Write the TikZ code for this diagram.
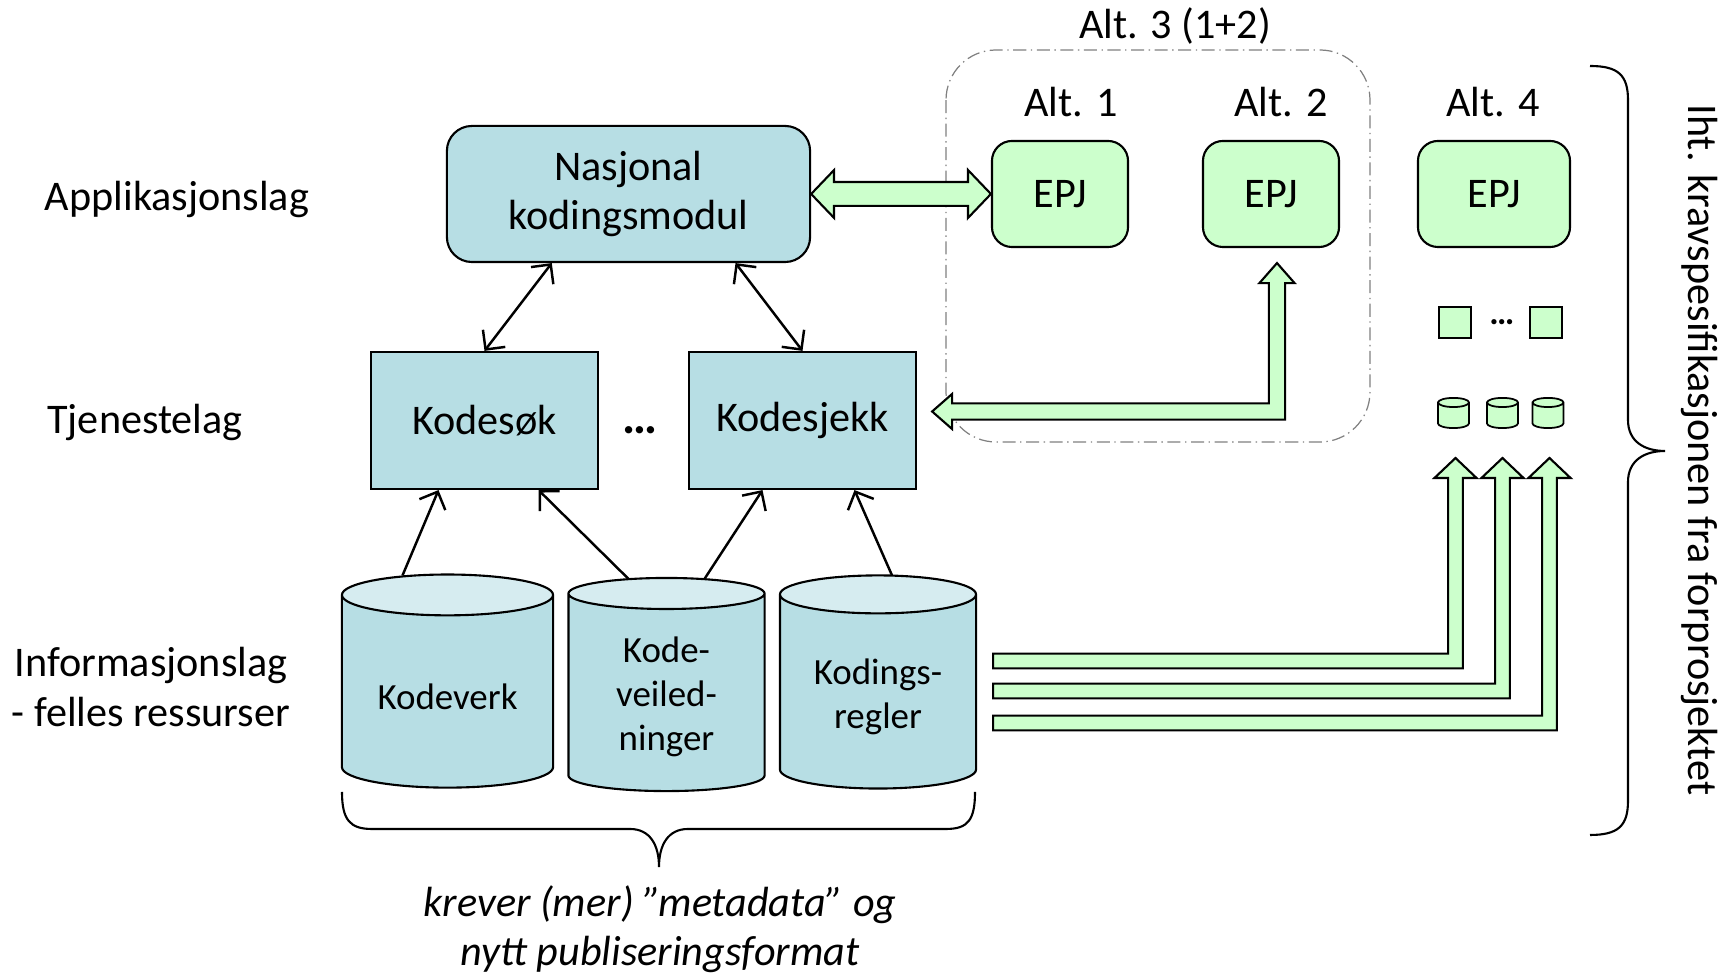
\documentclass[tikz,border=0pt]{standalone}
\usepackage{fontspec}
\setmainfont{Carlito}
\usetikzlibrary{calc,arrows.meta,shapes.geometric}
\definecolor{lagblaa}{RGB}{183,222,228}
\definecolor{lagtopp}{RGB}{214,236,240}
\definecolor{epjgronn}{RGB}{204,255,204}
\def\fatup(#1)(#2){\draw[fatarrow] let \p1=(#1), \p2=(#2) in
  (\x1,\y1+2.1pt) -- (\x2-2.1pt,\y1+2.1pt) -- (\x2-2.1pt,\y2-5.7pt) -- (\x2-6pt,\y2-5.7pt) -- (\p2)
  -- (\x2+6pt,\y2-5.7pt) -- (\x2+2.1pt,\y2-5.7pt) -- (\x2+2.1pt,\y1-2.1pt) -- (\x1,\y1-2.1pt) -- cycle;}
\def\tonne(#1){\draw[line width=0.5pt, fill=epjgronn] ($(#1.north west)+(0,4.5)$) -- ($(#1.south west)+(0,-4.5)$)
  arc[start angle=180, end angle=360, x radius=4.4pt, y radius=1.3pt] -- ($(#1.north east)+(0,4.5)$)
  arc[start angle=0, end angle=180, x radius=4.4pt, y radius=1.3pt] -- cycle
  ($(#1.north west)+(0,4.5)$) arc[start angle=180, end angle=360, x radius=4.4pt, y radius=1.3pt];}
\tikzset{
  every node/.style={font=\fontsize{12}{14.2}\selectfont},
  lagboks/.style={draw, fill=lagblaa, line width=0.6pt, align=center},
  epjboks/.style={draw, fill=epjgronn, line width=0.6pt, rounded corners=0.2cm, minimum width=1.36cm, minimum height=1.06cm},
  database/.style={cylinder, shape border rotate=90, draw, line width=0.6pt, cylinder uses custom fill,
    cylinder body fill=lagblaa, cylinder end fill=lagtopp, aspect=0.25, minimum width=1.96cm, minimum height=2.13cm,
    align=center, font=\fontsize{10.5}{12.5}\selectfont},
  minidb/.style={minimum width=0.31cm, minimum height=0.30cm, inner sep=0pt, outer sep=0pt},
  minibox/.style={draw, fill=epjgronn, line width=0.5pt, minimum width=0.32cm, minimum height=0.31cm, inner sep=0pt},
  tynnpil/.style={line width=0.7pt, {Straight Barb[length=4pt,width=8pt]}-{Straight Barb[length=4pt,width=8pt]}},
  oppil/.style={line width=0.7pt, -{Straight Barb[length=4pt,width=8pt]}},
  fatarrow/.style={draw, fill=epjgronn, line width=0.6pt, line join=miter},
  klamme/.style={line width=0.6pt},
}
\begin{document}
\begin{tikzpicture}[x=0.01cm, y=-0.01cm]
  \useasboundingbox (0,0) rectangle (1732,974);

  %%%%% lag %%%%%
  \node (applag) at (177,199) {Applikasjonslag};
  \node (tjlag) at (145,422) {Tjenestelag};
  \node[align=center] (infolag) at (151,687) {Informasjonslag\\- felles ressurser};

  %%%%% boksene %%%%%
  \node[lagboks, rounded corners=0.25cm, minimum width=3.63cm, minimum height=1.36cm] (nkm) at (628.5,194) {Nasjonal\\kodingsmodul};
  \node[lagboks, minimum width=2.27cm, minimum height=1.37cm] (kodesok) at (484.5,420.5) {Kodesøk};
  \node[lagboks, minimum width=2.27cm, minimum height=1.37cm] (kodesjekk) at (802.5,420.5) {Kodesjekk};
  \node[font=\fontsize{14}{16}\selectfont\bfseries] (prikk) at (640,430) {…};

  \node[database, minimum width=2.11cm] (kv) at (447.5,696.5) {Kodeverk};
  \node[database] (kveil) at (666.5,696.5) {Kode-\\veiled-\\ninger};
  \node[database] (regler) at (878,696.5) {Kodings-\\regler};

  \node[epjboks] (epj1) at (1060,194) {EPJ};
  \node[epjboks] (epj2) at (1271,194) {EPJ};
  \node[epjboks, minimum width=1.52cm] (epj4) at (1494,194) {EPJ};
  \node (alt1) at (1071,102) {Alt. 1};
  \node (alt2) at (1281,102) {Alt. 2};
  \node (alt4) at (1493,102) {Alt. 4};
  \node (alt3) at (1175,26) {Alt. 3 (1+2)};
  \draw[gray, line width=0.35pt, rounded corners=0.5cm, dash pattern=on 3.7pt off 1.3pt on 0.4pt off 1.3pt] (946,50) rectangle (1370,442);

  \node[minibox] (sq1) at (1455,322.5) {};
  \node[minibox] (sq2) at (1546,322.5) {};
  \node[font=\fontsize{10}{12}\selectfont\bfseries] (prikk2) at (1502,322) {…};
  \node[minidb] (db1) at (1453.5,413) {};
  \node[minidb] (db2) at (1502.5,413) {};
  \node[minidb] (db3) at (1548,413) {};
  \tonne(db1)
  \tonne(db2)
  \tonne(db3)

  %%%%% tynne piler %%%%%
  \draw[tynnpil] ($(nkm.south west)!0.29!(nkm.south east)$) -- (kodesok.north);
  \draw[tynnpil] ($(nkm.south west)!0.793!(nkm.south east)$) -- (kodesjekk.north);
  \draw[oppil] ($(kv.north)+(-45,2)$) -- ($(kodesok.south)+(-46,0)$);
  \draw[oppil] ($(kveil.north)+(-38,2)$) -- ($(kodesok.south)+(54,0)$);
  \draw[oppil] ($(kveil.north)+(38,2)$) -- ($(kodesjekk.south)+(-40,0)$);
  \draw[oppil] ($(regler.north)+(14,1)$) -- ($(kodesjekk.south)+(52,0)$);

  %%%%% tykke piler %%%%%
  \draw[fatarrow] let \p1=(nkm.east), \p2=(epj1.west) in
    (\p1) -- (\x1+6.5pt,\y1+6.8pt) -- (\x1+6.5pt,\y1+3.4pt) -- (\x2-6.5pt,\y1+3.4pt) -- (\x2-6.5pt,\y1+6.8pt) -- (\p2)
    -- (\x2-6.5pt,\y1-6.8pt) -- (\x2-6.5pt,\y1-3.4pt) -- (\x1+6.5pt,\y1-3.4pt) -- (\x1+6.5pt,\y1-6.8pt) -- cycle;

  \coordinate (a2topp) at ($(epj2.south)+(6,15)$);
  \coordinate (a2venstre) at ($(kodesjekk.east)+(15,-9)$);
  \draw[fatarrow] let \p1=(a2venstre), \p2=(a2topp) in
    (\p1) -- (\x1+5.7pt,\y1+5pt) -- (\x1+5.7pt,\y1+2.3pt) -- (\x2-2.3pt,\y1+2.3pt) -- (\x2-2.3pt,\y2-5.7pt) -- (\x2-5pt,\y2-5.7pt) -- (\p2)
    -- (\x2+5pt,\y2-5.7pt) -- (\x2+2.3pt,\y2-5.7pt) -- (\x2+2.3pt,\y1-2.3pt) -- (\x1+5.7pt,\y1-2.3pt) -- (\x1+5.7pt,\y1-5pt) -- cycle;

  \coordinate (s1) at ($(regler.east)+(16,-35.5)$);
  \coordinate (s2) at ($(regler.east)+(16,-5.5)$);
  \coordinate (s3) at ($(regler.east)+(16,26.5)$);
  \coordinate (t1) at ($(db1.south)+(2,30)$);
  \coordinate (t2) at ($(db2.south)+(0,30)$);
  \coordinate (t3) at ($(db3.south)+(1.5,30)$);
  \fatup(s1)(t1)
  \fatup(s2)(t2)
  \fatup(s3)(t3)

  %%%%% klammer %%%%%
  \draw[klamme] (342,792) .. controls (342,820) and (350,829) .. (372,829) -- (630,829)
    .. controls (650,829) and (659,845) .. (659,867) .. controls (659,845) and (668,829) .. (688,829)
    -- (946,829) .. controls (968,829) and (975,820) .. (975,792);
  \node[font=\fontsize{12}{13.8}\selectfont\itshape, align=center] (metadata) at (660,929) {krever (mer) ”metadata” og\\nytt publiseringsformat};

  \draw[klamme] (1590,66) .. controls (1618,66) and (1628,75) .. (1628,100) -- (1628,420)
    .. controls (1628,442) and (1645,451) .. (1665,451) .. controls (1645,451) and (1628,460) .. (1628,482)
    -- (1628,801) .. controls (1628,826) and (1618,835) .. (1590,835);
  \node[rotate=-90] (krav) at (1700,450) {Iht. kravspesifikasjonen fra forprosjektet};
\end{tikzpicture}
\end{document}
